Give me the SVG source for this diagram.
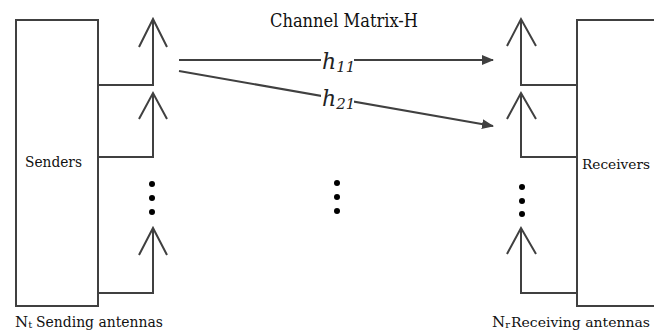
<svg xmlns="http://www.w3.org/2000/svg" width="654" height="330" viewBox="0 0 654 330">
<style>
.ln{fill:none;stroke:#404040;stroke-width:2;stroke-linejoin:miter}
.t{font-family:'DejaVu Serif',serif;fill:#111}
.h{font-family:'DejaVu Serif',serif;font-style:italic;fill:#222}
.dot{fill:#000}
</style>
<defs>
<marker id="ah" markerWidth="12" markerHeight="10" refX="11" refY="5" orient="auto" markerUnits="userSpaceOnUse">
<path d="M0,0 L12,5 L0,10 Z" fill="#404040"/>
</marker>
</defs>
<rect width="654" height="330" fill="#fff"/>
<g id="senders">
<rect class="ln" x="16" y="20" width="82" height="286"/>
<text class="t" x="25" y="167" font-size="15" textLength="57" lengthAdjust="spacingAndGlyphs">Senders</text>
</g>
<g id="tx-antenna-1">
<path class="ln" d="M98,85 H153 V19 M139,47 L153,19 L167,47"/>
</g>
<g id="tx-antenna-2">
<path class="ln" d="M98,157 H153 V93 M139,119 L153,93 L167,119"/>
</g>
<g id="tx-antenna-3">
<path class="ln" d="M98,293 H153 V228 M139,255 L153,228 L167,255"/>
</g>
<g id="tx-dots">
<circle class="dot" cx="152" cy="184" r="3"/>
<circle class="dot" cx="152" cy="198" r="3"/>
<circle class="dot" cx="152" cy="212" r="3"/>
</g>
<g id="receivers">
<path class="ln" d="M660,20 H577 V306 H660"/>
<text class="t" x="582" y="169" font-size="13.5" textLength="68" lengthAdjust="spacingAndGlyphs">Receivers</text>
</g>
<g id="rx-antenna-1">
<path class="ln" d="M577,85 H521 V19 M507,46 L521,19 L536,46"/>
</g>
<g id="rx-antenna-2">
<path class="ln" d="M577,157 H521 V93 M507,119 L521,93 L536,119"/>
</g>
<g id="rx-antenna-3">
<path class="ln" d="M577,293 H521 V228 M507,254 L521,228 L536,254"/>
</g>
<g id="rx-dots">
<circle class="dot" cx="522" cy="187" r="3"/>
<circle class="dot" cx="522" cy="201" r="3"/>
<circle class="dot" cx="522" cy="214" r="3"/>
</g>
<g id="mid-dots">
<circle class="dot" cx="337" cy="183" r="3"/>
<circle class="dot" cx="337" cy="197" r="3"/>
<circle class="dot" cx="337" cy="211" r="3"/>
</g>
<g id="connectors">
<line class="ln" x1="179" y1="60" x2="493" y2="60" marker-end="url(#ah)"/>
<line class="ln" x1="179" y1="71" x2="493" y2="126" marker-end="url(#ah)"/>
</g>
<g id="labels">
<text class="t" x="270" y="27" font-size="18" textLength="148" lengthAdjust="spacingAndGlyphs">Channel Matrix-H</text>
<rect x="321" y="50" width="33" height="18" fill="#fff"/>
<text class="h" x="322" y="69" font-size="22">h<tspan font-size="15" dy="3">11</tspan></text>
<rect x="321" y="88" width="33" height="18" fill="#fff"/>
<text class="h" x="322" y="106" font-size="22">h<tspan font-size="15" dy="3">21</tspan></text>
<text class="t" x="15" y="327" font-size="15">N<tspan font-size="10" dy="1">t</tspan></text>
<text class="t" x="36" y="327" font-size="15" textLength="127" lengthAdjust="spacingAndGlyphs">Sending antennas</text>
<text class="t" x="492" y="327" font-size="15">N<tspan font-size="10" dy="1">r</tspan></text>
<text class="t" x="511" y="327" font-size="13" textLength="139" lengthAdjust="spacingAndGlyphs">Receiving antennas</text>
</g>
</svg>
